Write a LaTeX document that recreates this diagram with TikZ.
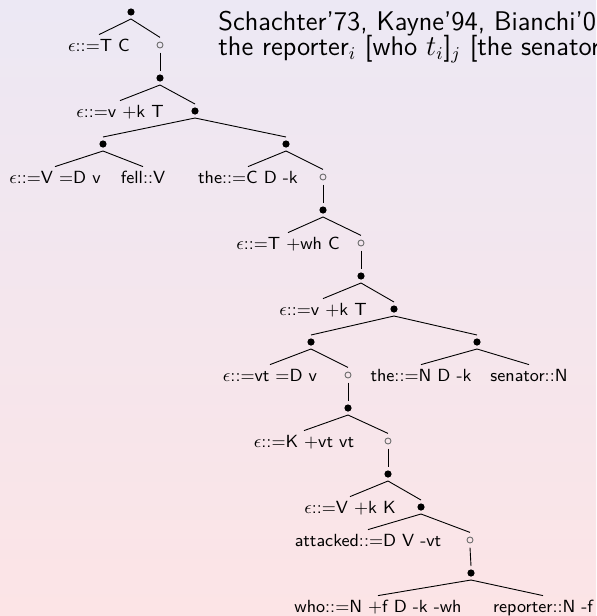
\documentclass[tikz,border=0pt]{standalone}
\usetikzlibrary{positioning}
\definecolor{SlideTop}{HTML}{ECE8F4}
\definecolor{SlideBottom}{HTML}{FCE4E6}
\definecolor{HollowGray}{HTML}{6E6E6E}

\begin{document}
\begin{tikzpicture}[
    x=0.5pt, y=-0.5pt,
    font=\sffamily,
    dot/.style={circle, fill=black, minimum size=3.6pt, inner sep=0pt, outer sep=1.7pt},
    hollow/.style={circle, draw=HollowGray, line width=0.45pt, minimum size=3pt, inner sep=0pt, outer sep=2.3pt},
    lex/.style={font=\sffamily\fontsize{8.8}{10.5}\selectfont, inner sep=2pt, text height=6pt, text depth=0pt},
    headline/.style={anchor=base west, inner sep=0pt, font=\sffamily\fontsize{13.5}{16}\selectfont},
    branch/.style={line width=0.45pt}
]

  % Slide background
  \useasboundingbox (0,0) rectangle (596,616);
  \clip (0,0) rectangle (596,616);
  \path[top color=SlideTop, bottom color=SlideBottom] (0,0) rectangle (596,616);

  % Header text
  \node[headline] (refs) at (218,30) {Schachter'73, Kayne'94, Bianchi'00};
  \node[headline] (gloss) at (218,55) {the reporter$_i$ [who $t_i$]$_j$ [the senator attacked $t_j$] fell};

  % =========================================================================
  % UPPER TREE: C, T, v
  % =========================================================================
  \node[dot] (n0) at (131,12) {};
  \node[lex] (l1) at (99,45) {$\epsilon$::=T C};
  \node[hollow] (c1) at (160,45) {};
  \node[dot] (n2) at (160,78) {};
  \node[lex] (l3) at (120,111) {$\epsilon$::=v +k T};
  \node[dot] (n3) at (195,111) {};
  \node[dot] (n4a) at (103,144) {};
  \node[dot] (n4b) at (286,144) {};
  \node[lex] (l5a) at (55,177) {$\epsilon$::=V =D v};
  \node[lex] (l5b) at (143,177) {fell::V};
  \node[lex] (l5c) at (248,177) {the::=C D -k};
  \node[hollow] (c5) at (323,177) {};

  % =========================================================================
  % RELATIVE CLAUSE: C, T, v
  % =========================================================================
  \node[dot] (n6) at (323,210) {};
  \node[lex] (l7) at (288,243) {$\epsilon$::=T +wh C};
  \node[hollow] (c7) at (361,243) {};
  \node[dot] (n8) at (361,276) {};
  \node[lex] (l9) at (323,309) {$\epsilon$::=v +k T};
  \node[dot] (n9) at (394,309) {};
  \node[dot] (n10a) at (311,342) {};
  \node[dot] (n10b) at (477,342) {};
  \node[lex] (l11a) at (270,375) {$\epsilon$::=vt =D v};
  \node[hollow] (c11) at (348,375) {};
  \node[lex] (l11b) at (421,375) {the::=N D -k};
  \node[lex] (l11c) at (529,375) {senator::N};

  % =========================================================================
  % LOWER TREE: vt, K, V, D
  % =========================================================================
  \node[dot] (n12) at (348,408) {};
  \node[lex] (l13) at (304,441) {$\epsilon$::=K +vt vt};
  \node[hollow] (c13) at (388,441) {};
  \node[dot] (n14) at (388,474) {};
  \node[lex] (l15) at (350,507) {$\epsilon$::=V +k K};
  \node[dot] (n15) at (421,507) {};
  \node[lex] (l16) at (368,540) {attacked::=D V -vt};
  \node[hollow] (c16) at (470,540) {};
  \node[dot] (n17) at (471,573) {};
  \node[lex] (l18a) at (378,606) {who::=N +f D -k -wh};
  \node[lex] (l18b) at (543,606) {reporter::N -f};

  % Branches
  \draw[branch] (n0.south) -- (l1.north);
  \draw[branch] (n0.south) -- (c1.north);
  \draw[branch] (c1.south) -- (n2.north);
  \draw[branch] (n2.south) -- (l3.north);
  \draw[branch] (n2.south) -- (n3.north);
  \draw[branch] (n3.south) -- (n4a.north);
  \draw[branch] (n3.south) -- (n4b.north);
  \draw[branch] (n4a.south) -- (l5a.north);
  \draw[branch] (n4a.south) -- (l5b.north);
  \draw[branch] (n4b.south) -- (l5c.north);
  \draw[branch] (n4b.south) -- (c5.north);
  \draw[branch] (c5.south) -- (n6.north);
  \draw[branch] (n6.south) -- (l7.north);
  \draw[branch] (n6.south) -- (c7.north);
  \draw[branch] (c7.south) -- (n8.north);
  \draw[branch] (n8.south) -- (l9.north);
  \draw[branch] (n8.south) -- (n9.north);
  \draw[branch] (n9.south) -- (n10a.north);
  \draw[branch] (n9.south) -- (n10b.north);
  \draw[branch] (n10a.south) -- (l11a.north);
  \draw[branch] (n10a.south) -- (c11.north);
  \draw[branch] (n10b.south) -- (l11b.north);
  \draw[branch] (n10b.south) -- (l11c.north);
  \draw[branch] (c11.south) -- (n12.north);
  \draw[branch] (n12.south) -- (l13.north);
  \draw[branch] (n12.south) -- (c13.north);
  \draw[branch] (c13.south) -- (n14.north);
  \draw[branch] (n14.south) -- (l15.north);
  \draw[branch] (n14.south) -- (n15.north);
  \draw[branch] (n15.south) -- (l16.north);
  \draw[branch] (n15.south) -- (c16.north);
  \draw[branch] (c16.south) -- (n17.north);
  \draw[branch] (n17.south) -- (l18a.north);
  \draw[branch] (n17.south) -- (l18b.north);

\end{tikzpicture}
\end{document}
